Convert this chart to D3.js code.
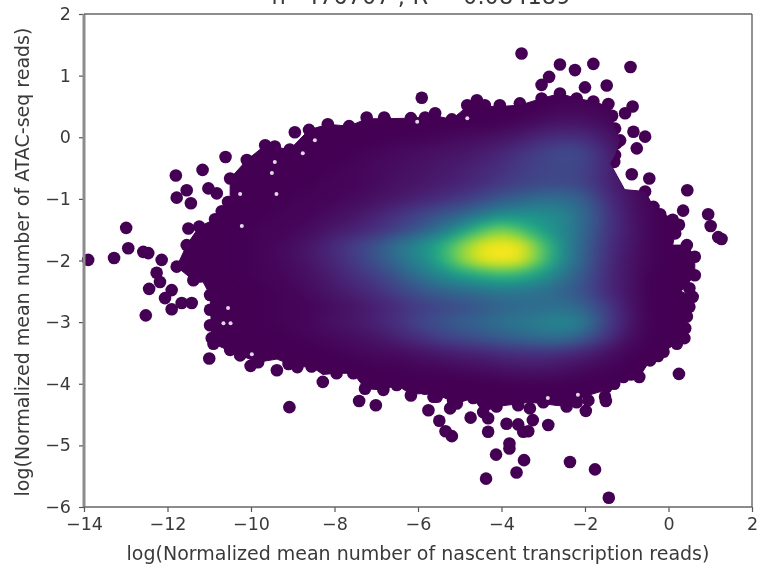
<!DOCTYPE html>
<html>
<head>
<meta charset="utf-8">
<script src="https://cdn.jsdelivr.net/npm/d3@7"></script>
<style>
  html, body { margin: 0; padding: 0; background: #fff; }
  svg { display: block; filter: blur(0.6px); }
  text { font-family: "DejaVu Sans", sans-serif; fill: #3a3a3a; }
</style>
</head>
<body>
<div id="chart"></div>
<script>
// tick labels
const xTicks = [-14, -12, -10, -8, -6, -4, -2, 0, 2];
const yTicks = [-6, -5, -4, -3, -2, -1, 0, 1, 2];

const titleText = "n=476707 ; R² =0.084189";
const xLabel = "log(Normalized mean number of nascent transcription reads)";
const yLabel = "log(Normalized mean number of ATAC-seq reads)";

// single points
const dots = [
  [-13.9,-1.99],[-13.28,-1.96],[-12.94,-1.80],[-12.99,-1.47],[-12.58,-1.86],[-12.46,-1.88],[-12.52,-2.89],[-12.44,-2.46],
  [-12.26,-2.20],[-12.18,-2.35],[-12.14,-1.99],[-12.06,-2.61],[-11.90,-2.79],[-11.66,-2.69],[-11.42,-2.69],[-11.90,-2.48],
  [-11.78,-2.10],[-11.50,-1.48],[-11.24,-1.45],[-10.86,-1.33],[-11.54,-1.75],[-11.38,-2.32],[-11.22,-2.26],
  [-11.80,-0.62],[-11.16,-0.53],[-11.54,-0.86],[-11.78,-0.98],[-11.44,-1.07],[-11.02,-0.83],[-10.61,-0.32],[-10.82,-0.91],
  [-10.50,-0.67],[-10.10,-0.37],[-9.66,-0.13],[-9.43,-0.15],[-9.07,-0.20],[-8.95,0.08],[-8.61,0.12],[-8.16,0.21],
  [-7.65,0.18],[-7.23,0.32],[-6.81,0.32],[-6.79,0.28],[-6.17,0.31],[-5.91,0.64],[-5.59,0.39],[-5.83,0.32],[-5.19,0.29],
  [-4.82,0.52],[-4.59,0.60],[-4.40,0.52],[-4.04,0.52],[-3.56,0.55],[-3.52,1.36],[-3.04,0.85],[-2.86,0.98],[-2.60,1.18],
  [-2.24,1.09],[-1.80,1.19],[-0.91,1.14],[-2.00,0.81],[-1.48,0.84],[-3.04,0.63],[-2.60,0.71],[-2.20,0.63],[-1.80,0.58],
  [-1.44,0.54],[-0.86,0.50],[-1.04,0.39],[-1.28,0.14],[-0.84,0.09],[-0.56,0.01],[-0.76,-0.18],[-1.16,-0.05],[-1.28,-0.29],
  [-0.88,-0.60],[-0.46,-0.67],[0.45,-0.86],[0.35,-1.19],[0.95,-1.25],[1.01,-1.44],[1.27,-1.65],[1.19,-1.62],[-0.56,-0.88],
  [-0.36,-1.13],[0.10,-1.34],[0.16,-1.56],[0.44,-1.75],[0.63,-1.94],[0.63,-2.24],[0.58,-2.59],[0.44,-2.91],[0.38,-3.26],
  [0.25,-3.84],[-0.12,-3.48],[-0.70,-3.89],[-0.44,-3.62],[-1.08,-3.89],[-1.48,-4.05],[-1.52,-4.21],[-1.50,-4.28],
  [-1.98,-4.44],[-1.92,-4.27],[-2.44,-4.37],[-2.88,-4.67],[-3.25,-4.59],[-3.36,-4.77],[-3.48,-4.78],[-3.60,-4.66],
  [-3.88,-4.65],[-4.32,-4.78],[-4.32,-4.56],[-4.74,-4.55],[-3.81,-4.97],[-3.81,-5.05],[-4.13,-5.15],[-3.46,-5.24],
  [-3.64,-5.44],[-4.37,-5.54],[-2.36,-5.27],[-1.76,-5.39],[-1.43,-5.85],[-5.75,-4.43],[-5.49,-4.60],[-5.34,-4.77],
  [-5.19,-4.85],[-5.23,-4.40],[-5.07,-4.32],[-6.17,-4.19],[-5.63,-4.21],[-4.44,-4.46],[-4.12,-4.37],[-3.32,-4.40],
  [-11.00,-3.59],[-10.90,-3.35],[-10.01,-3.71],[-9.83,-3.65],[-10.26,-3.54],[-9.38,-3.78],[-8.89,-3.73],[-9.08,-4.38],
  [-8.28,-3.97],[-8.55,-3.72],[-7.95,-3.83],[-7.55,-3.83],[-7.41,-4.28],[-7.01,-4.35],[-7.27,-4.08],[-6.83,-4.10],
  [-6.51,-4.02],[-5.55,-4.21],[-5.83,-4.08],[-5.16,-4.27],[-4.68,-4.23],
  [-10.98,-2.56],[-10.98,-2.80],[-10.98,-3.05],[-10.94,-3.26],
  [-10.55,-1.05],[-10.70,-1.20],[-10.30,-0.75],[-9.90,-0.50],[-10.50,-3.45],[-9.10,-3.68],[-6.90,-4.00],[-0.20,-1.25],
  [0.25,-1.42],[0.50,-2.45],[0.50,-2.75],[0.40,-3.10],[0.20,-3.35],[-0.25,-3.55],[-0.90,-3.85],[-1.30,-4.00],[-1.35,0.35],
  [-1.25,-0.10],[-1.30,-0.40],[-2.70,-4.25],[-3.00,-4.30],[-3.60,-4.35],[-2.20,-4.30]
];

// outer edge of the dense part of the cloud
const outline = [
  [-11.78,-2.10],[-11.54,-1.75],[-11.24,-1.45],[-10.86,-1.33],[-10.50,-1.05],[-10.50,-0.67],[-10.10,-0.37],[-9.66,-0.13],
  [-9.07,-0.20],[-8.61,0.12],[-8.16,0.21],[-7.65,0.18],[-7.23,0.30],[-6.81,0.30],[-6.17,0.31],[-5.59,0.35],[-5.19,0.29],
  [-4.82,0.50],[-4.59,0.58],[-4.40,0.50],[-4.04,0.50],[-3.56,0.52],[-3.04,0.63],[-2.60,0.71],[-2.20,0.63],[-1.80,0.58],
  [-1.44,0.50],[-1.28,0.14],[-1.16,-0.05],[-1.28,-0.29],[-1.40,-0.42],[-1.05,-0.85],[-0.56,-0.88],[-0.36,-1.13],[0.10,-1.34],
  [0.16,-1.56],[0.10,-1.75],[0.44,-1.75],[0.63,-1.94],[0.63,-2.24],[0.30,-2.50],[0.58,-2.59],[0.44,-2.91],[0.38,-3.26],
  [-0.12,-3.48],[-0.44,-3.62],[-0.70,-3.89],[-1.08,-3.89],[-1.50,-4.10],[-1.98,-4.20],[-2.44,-4.37],[-3.32,-4.30],
  [-4.12,-4.37],[-4.44,-4.46],[-4.68,-4.23],[-5.07,-4.32],[-5.63,-4.15],[-6.17,-4.17],[-6.51,-4.02],[-6.83,-4.10],
  [-7.27,-4.08],[-7.55,-3.83],[-7.95,-3.83],[-8.28,-3.85],[-8.55,-3.72],[-8.89,-3.73],[-9.38,-3.60],[-9.83,-3.65],
  [-10.26,-3.54],[-10.90,-3.35],[-10.94,-3.26],[-10.98,-2.56],[-11.22,-2.26],[-11.38,-2.32]
];

// small white holes left between the points
const gaps = [
  [-10.26,-0.92],[-9.39,-0.92],[-9.43,-0.40],[-9.50,-0.58],[-10.22,-1.44],[-8.76,-0.26],[-8.47,-0.05],[-10.66,-3.02],
  [-10.49,-3.02],[-10.55,-2.77],[-9.98,-3.52],[-4.82,0.31],[-6.02,0.25],[-2.17,-4.18],[-2.89,-4.23]
];

// density colour read on a grid, 0 = darkest purple, 100 = brightest yellow
const densityX = [-11,-10.5,-10,-9.5,-9,-8.5,-8,-7.5,-7,-6.5,-6,-5.5,-5,-4.5,-4,-3.5,-3,-2.5,-2,-1.5,-1,-0.5,0,0.5,1];
const densityY = [0.75,0.5,0.25,0,-0.25,-0.5,-0.75,-1,-1.25,-1.5,-1.75,-2,-2.25,-2.5,-2.75,-3,-3.25,-3.5,-3.75,-4,-4.25];
const density = [
  [0,0,0,0,0,0,0,0,0,0,0,0,0,0,0,0,0,0,0,0,0,0,0,0,0],
  [0,0,0,0,0,0,0,0,0,0,0,0,0,0,0,0,1,2,2,1,0,0,0,0,0],
  [0,0,0,0,0,0,0,0,0,0,0,0,0,0,1,2,4,5,5,3,1,0,0,0,0],
  [0,0,0,0,0,0,0,0,0,1,1,2,3,4,5,8,12,14,13,7,2,0,0,0,0],
  [0,0,0,0,0,0,0,1,2,3,4,5,6,8,11,16,20,24,22,11,3,1,0,0,0],
  [0,0,0,0,0,0,1,2,3,4,5,7,8,11,14,18,21,22,20,11,4,1,0,0,0],
  [0,0,0,0,0,1,1,2,3,5,6,8,10,13,17,20,22,23,20,11,5,2,0,0,0],
  [0,0,0,0,1,1,2,3,5,7,10,13,17,22,28,32,36,36,30,15,6,2,0,0,0],
  [0,0,0,1,1,2,4,6,10,15,20,26,32,40,48,50,50,46,34,18,7,2,0,0,0],
  [0,0,1,1,2,4,7,10,14,20,28,38,52,70,82,70,56,46,33,17,8,2,0,0,0],
  [0,0,1,2,4,7,13,19,27,38,48,60,80,97,100,97,72,47,31,15,7,2,0,0,0],
  [0,0,1,2,4,7,12,18,26,36,46,60,82,97,100,97,72,46,30,14,6,2,0,0,0],
  [0,0,1,1,3,5,9,14,19,27,37,46,54,60,66,62,53,39,26,13,6,1,0,0,0],
  [0,0,0,1,2,4,7,10,14,20,26,31,34,37,40,39,37,31,24,13,6,1,0,0,0],
  [0,0,0,1,1,2,4,6,9,13,18,21,24,27,32,34,35,37,31,19,7,1,0,0,0],
  [0,0,0,1,1,3,5,7,10,15,21,26,30,33,38,41,45,47,42,21,8,1,0,0,0],
  [0,0,0,0,1,2,3,4,6,10,14,19,23,26,30,33,36,37,28,16,5,1,0,0,0],
  [0,0,0,0,0,0,1,2,3,3,5,7,9,10,13,14,15,12,10,5,2,0,0,0,0],
  [0,0,0,0,0,0,0,0,1,1,2,2,3,4,5,6,6,5,3,2,0,0,0,0,0],
  [0,0,0,0,0,0,0,0,0,0,0,0,0,0,1,1,1,1,0,0,0,0,0,0,0],
  [0,0,0,0,0,0,0,0,0,0,0,0,0,0,0,0,0,0,0,0,0,0,0,0,0]
];

const width = 759, height = 566;
const margin = {top: 14, right: 7, bottom: 59, left: 84};
const dotRadius = 6.3;

const x = d3.scaleLinear().domain([-14, 2]).range([margin.left, width - margin.right]);
const y = d3.scaleLinear().domain([-6, 2]).range([height - margin.bottom, margin.top]);
const color = d3.scaleSequential(d3.interpolateViridis).domain([0, 100]);

const svg = d3.select("#chart").append("svg")
  .attr("width", width)
  .attr("height", height);

const defs = svg.append("defs");
defs.append("filter")
  .attr("id", "soft")
  .attr("filterUnits", "userSpaceOnUse")
  .attr("color-interpolation-filters", "sRGB")
  .attr("x", 0).attr("y", 0).attr("width", width).attr("height", height)
  .append("feGaussianBlur")
  .attr("stdDeviation", "9 5");

const cloudLine = d3.line().x(d => x(d[0])).y(d => y(d[1])).curve(d3.curveLinearClosed);

defs.append("clipPath")
  .attr("id", "cloudClip")
  .append("path")
  .attr("d", cloudLine(outline));

// points and dense part in the lowest colour
svg.append("g")
  .selectAll("circle")
  .data(dots)
  .join("circle")
  .attr("cx", d => x(d[0]))
  .attr("cy", d => y(d[1]))
  .attr("r", dotRadius)
  .attr("fill", color(0));

svg.append("path")
  .attr("d", cloudLine(outline))
  .attr("fill", color(0))
  .attr("stroke", color(0))
  .attr("stroke-width", 1);

// density as filled contours, d3.contours keeps value i at i + 0.5
const contours = d3.contours()
  .size([densityX.length, densityY.length])
  .thresholds(d3.range(1, 101))(density.flat());

const gridX = d3.scaleLinear().domain([0.5, densityX.length - 0.5]).range([densityX[0], densityX[densityX.length - 1]]);
const gridY = d3.scaleLinear().domain([0.5, densityY.length - 0.5]).range([densityY[0], densityY[densityY.length - 1]]);
const gridPath = d3.geoPath(d3.geoTransform({
  point(gx, gy) { this.stream.point(x(gridX(gx)), y(gridY(gy))); }
}));

svg.append("g")
  .attr("clip-path", "url(#cloudClip)")
  .append("g")
  .attr("filter", "url(#soft)")
  .selectAll("path")
  .data(contours)
  .join("path")
  .attr("d", gridPath)
  .attr("fill", d => color(d.value));

svg.append("g")
  .selectAll("circle")
  .data(gaps)
  .join("circle")
  .attr("cx", d => x(d[0]))
  .attr("cy", d => y(d[1]))
  .attr("r", 2)
  .attr("fill", "#fff")
  .attr("opacity", 0.85);

// axes
const xAxis = svg.append("g")
  .attr("transform", "translate(0," + (height - margin.bottom) + ")")
  .call(d3.axisBottom(x).tickValues(xTicks).tickSize(5).tickPadding(6));
const yAxis = svg.append("g")
  .attr("transform", "translate(" + margin.left + ",0)")
  .call(d3.axisLeft(y).tickValues(yTicks).tickSize(5).tickPadding(8));

[xAxis, yAxis].forEach(a => {
  a.select(".domain").remove();
  a.selectAll("line").attr("stroke", "#555").attr("stroke-width", 1.2);
  a.selectAll("text").style("font-family", '"DejaVu Sans", sans-serif').style("font-size", "17.5px").attr("fill", "#3a3a3a");
});

// frame
const spines = [
  {x1: x(-14), x2: x(-14), y1: y(-6), y2: y(2), w: 3, c: "#8c8c8c"},
  {x1: x(2), x2: x(2), y1: y(-6), y2: y(2), w: 1.6, c: "#777"},
  {x1: x(-14), x2: x(2), y1: y(2), y2: y(2), w: 1.6, c: "#666"},
  {x1: x(-14), x2: x(2), y1: y(-6), y2: y(-6), w: 1.6, c: "#666"}
];
svg.append("g")
  .selectAll("line")
  .data(spines)
  .join("line")
  .attr("x1", d => d.x1)
  .attr("x2", d => d.x2)
  .attr("y1", d => d.y1)
  .attr("y2", d => d.y2)
  .attr("stroke", d => d.c)
  .attr("stroke-width", d => d.w);

// labels
svg.append("text")
  .attr("x", 421)
  .attr("y", 4)
  .attr("text-anchor", "middle")
  .style("font-size", "22.5px")
  .text(titleText);

svg.append("text")
  .attr("x", 418)
  .attr("y", 560)
  .attr("text-anchor", "middle")
  .style("font-size", "19px")
  .text(xLabel);

svg.append("text")
  .attr("transform", "translate(29,262) rotate(-90)")
  .attr("text-anchor", "middle")
  .style("font-size", "19px")
  .text(yLabel);
</script>
</body>
</html>
